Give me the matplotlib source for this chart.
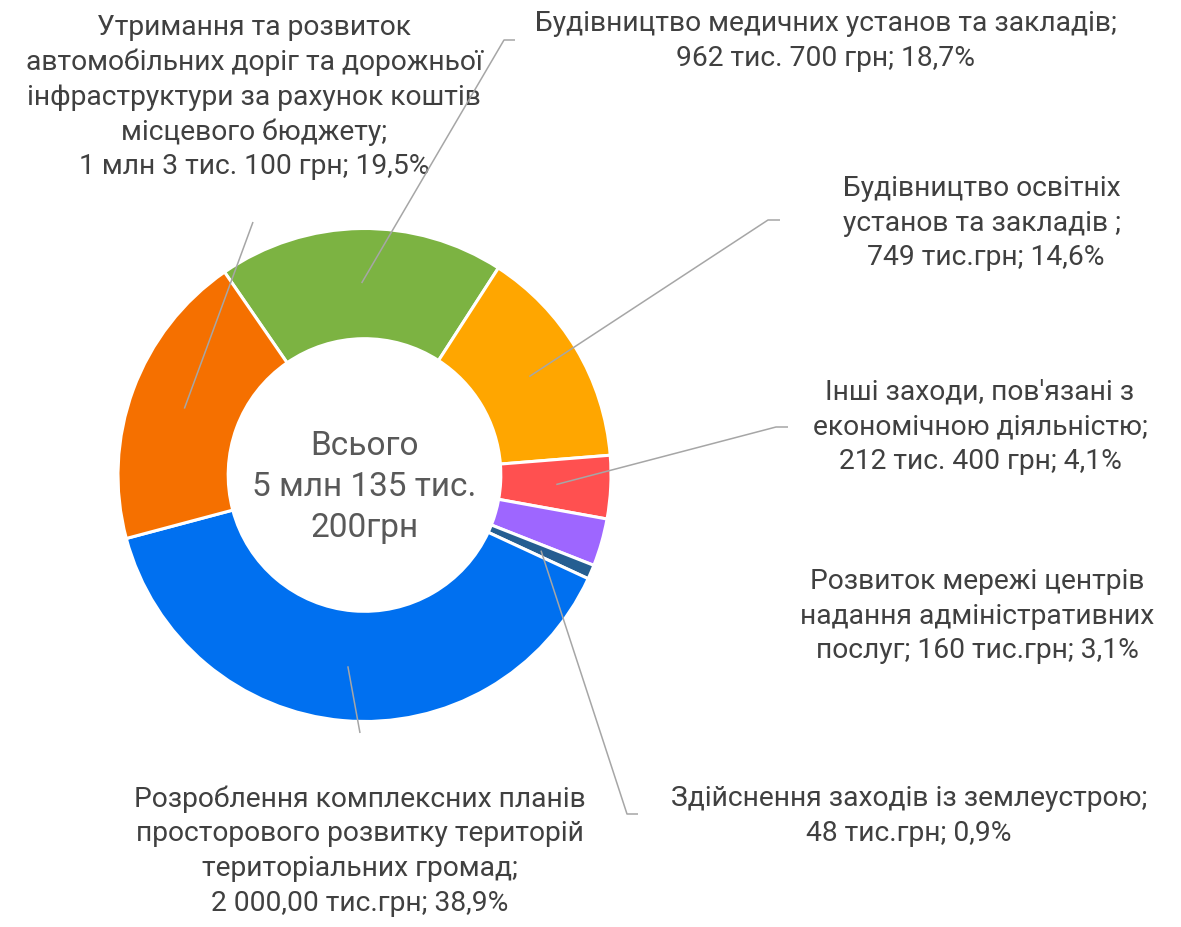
import matplotlib
matplotlib.use("Agg")
import matplotlib.pyplot as plt
import numpy as np

# ---- data ----
categories = [
    "Будівництво медичних установ та закладів;\n962 тис. 700 грн; 18,7%",
    "Будівництво освітніх\nустанов та закладів ;\n 749 тис.грн; 14,6%",
    "Інші заходи, пов'язані з\nекономічною діяльністю;\n212 тис. 400 грн; 4,1%",
    "Розвиток мережі центрів\nнадання адміністративних\nпослуг; 160 тис.грн; 3,1%",
    "Здійснення заходів із землеустрою;\n48 тис.грн; 0,9%",
    "Розроблення комплексних планів\nпросторового розвитку територій\nтериторіальних громад;\n2 000,00 тис.грн; 38,9%",
    "Утримання та розвиток\nавтомобільних доріг та дорожньої\nінфраструктури за рахунок коштів\nмісцевого бюджету;\n1 млн 3 тис. 100 грн; 19,5%",
]
values = [962.7, 749.0, 212.4, 160.0, 48.0, 2000.0, 1003.1]  # тис. грн
colors = ["#7CB342", "#FFA600", "#FF5050", "#9E66FF", "#255E91", "#0070F0", "#F57000"]
center_text = "Всього\n5 млн 135 тис.\n200грн"

# ---- layout (pixel coordinates, y measured from top) ----
W, H = 1181, 927
CX, CY, R = 364.5, 475, 246.5
label_pos = [(826, 41), (982, 223), (980, 427), (977, 616), (909, 816), (360, 851), (254, 97)]
# leader line outer endpoints: (elbow point, end of horizontal), None = no leader
leader = [((504, 40), (515, 40)),
          ((768, 220), (780, 220)),
          ((776, 427), (788, 427)),
          None,
          ((627, 814), (638, 814)),
          ((360, 733), None),
          ((253, 222), None)]

fig = plt.figure(figsize=(W / 100, H / 100), dpi=100)
ax = fig.add_axes([0, 0, 1, 1])

def Y(y):
    return H - y

wedges, _ = ax.pie(values, colors=colors, startangle=124.6, counterclock=False,
                   center=(CX, Y(CY)), radius=R,
                   wedgeprops=dict(width=0.447 * R, edgecolor="white", linewidth=2.2))
ax.set_xlim(0, W)
ax.set_ylim(0, H)
ax.set_aspect("equal")
ax.axis("off")

font = ["Roboto", "DejaVu Sans"]
for w, lab, pos, ld in zip(wedges, categories, label_pos, leader):
    ax.text(pos[0], Y(pos[1]), lab, ha="center", va="center", multialignment="center",
            fontsize=20.3, color="#404040", family=font, linespacing=1.36)
    if ld is None:
        continue
    mid = np.deg2rad((w.theta1 + w.theta2) / 2)
    r_in = 192
    x0, y0 = CX + r_in * np.cos(mid), Y(CY) + r_in * np.sin(mid)
    xs = [x0, ld[0][0]]
    ys = [y0, Y(ld[0][1])]
    if ld[1] is not None:
        xs.append(ld[1][0])
        ys.append(Y(ld[1][1]))
    ax.plot(xs, ys, color="#A6A6A6", lw=1.1, solid_capstyle="butt", zorder=5)

ax.text(CX, Y(487), center_text, ha="center", va="center", multialignment="center",
        fontsize=24, color="#595959", family=font, linespacing=1.38)

fig.savefig("out.png", dpi=100)
